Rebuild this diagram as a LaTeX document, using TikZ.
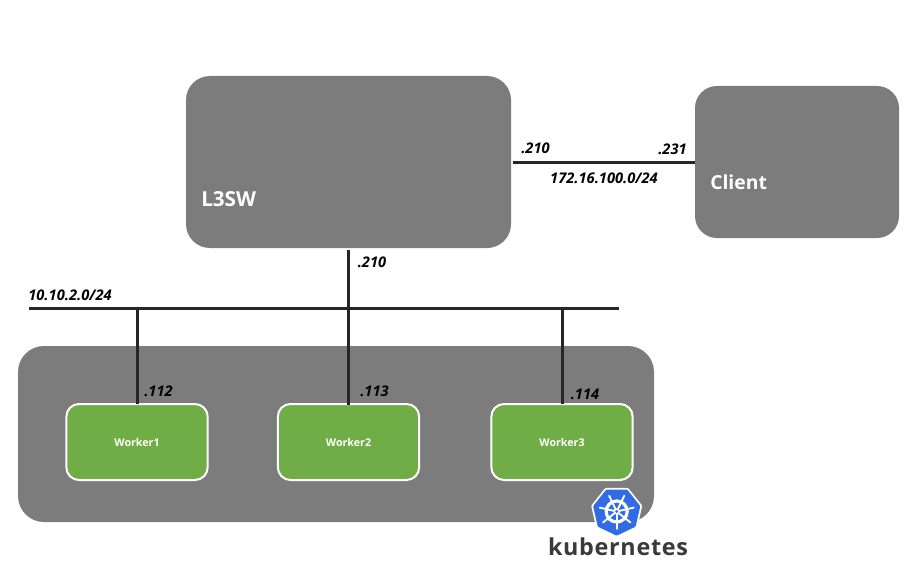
\documentclass[tikz,border=0pt]{standalone}
\usepackage{fontspec}
\setmainfont{Open Sans}
\newfontfamily\logofont[LetterSpace=3,BoldFont={Open Sans Bold}]{Open Sans}
\definecolor{boxgray}{HTML}{7C7C7C}
\definecolor{workgreen}{HTML}{70AD47}
\definecolor{linedark}{HTML}{262626}
\definecolor{k8sblue}{HTML}{326CE5}
\definecolor{logotext}{HTML}{3A3A3A}
\tikzset{
  graybox/.style={fill=boxgray,draw=none,inner sep=0pt,rectangle},
  worker/.style={fill=workgreen,draw=white,line width=1.5pt,rounded corners=9.5pt,inner sep=0pt,
    minimum width=106pt,minimum height=57pt,text=white,font=\fontsize{8}{10}\selectfont\bfseries},
  boxlabel/.style={text=white,font=\fontsize{14.5}{17}\selectfont\bfseries,inner sep=0pt,anchor=west},
  addr/.style={font=\fontsize{11}{13}\selectfont\bfseries\itshape,text=black,inner sep=0pt},
  wire/.style={draw=linedark,line width=2.25pt},
  spoke/.style={draw=white,line width=1.4pt,line cap=round},
}
\begin{document}
\begin{tikzpicture}[x=0.75pt,y=-0.75pt]
\useasboundingbox (0,0) rectangle (914,567);
\fill[white] (0,0) rectangle (914,567);
% boxes
\node[graybox,rounded corners=18pt,minimum width=243.75pt,minimum height=129pt] (l3sw) at (348.5,162) {};
\node[graybox,rounded corners=16.5pt,minimum width=153pt,minimum height=114pt] (client) at (797,162) {};
\node[graybox,rounded corners=19.5pt,minimum width=477pt,minimum height=132pt] (cluster) at (336,434) {};
\node[worker] (w1) at (137,442) {Worker1};
\node[worker] (w2) at (348.5,442) {Worker2};
\node[worker] (w3) at (562,442) {Worker3};
\node[boxlabel,font=\fontsize{15.5}{18}\selectfont\bfseries] (l3label) at (201,199) {L3SW};
\node[boxlabel] (clabel) at (710,182) {Client};
% wires
\coordinate (busL) at (29,308.5);
\coordinate (busR) at (619,308.5);
\draw[wire] (busL) -- (busR);
\draw[wire,shorten <=1pt,shorten >=-1.5pt] (l3sw.south) -- (w2.north);
\draw[wire,shorten >=-1pt] (w1.north |- busL) -- (w1.north);
\draw[wire,shorten >=-1pt] (w3.north |- busL) -- (w3.north);
\draw[wire,shorten <=1.5pt] (l3sw.east) -- (client.west);
% addresses
\node[addr] (a1) at (535.5,148) {.210};
\node[addr] (a2) at (672.5,149) {.231};
\node[addr] (a3) at (604,178) {172.16.100.0/24};
\node[addr] (a4) at (372,262) {.210};
\node[addr] (a5) at (70,295) {10.10.2.0/24};
\node[addr] (a6) at (158.5,391) {.112};
\node[addr] (a7) at (374.5,391) {.113};
\node[addr] (a8) at (585,394) {.114};
% kubernetes logo
\begin{scope}[shift={(616.7,511.5)}]
  \fill[white,draw=white,line width=3pt,line join=round]
    (90:24) -- (38.6:24) -- (-12.9:24) -- (-64.3:24) -- (-115.7:24) -- (-167.1:24) -- (141.4:24) -- cycle;
  \fill[k8sblue,draw=k8sblue,line width=3pt,line join=round]
    (90:22) -- (38.6:22) -- (-12.9:22) -- (-64.3:22) -- (-115.7:22) -- (-167.1:22) -- (141.4:22) -- cycle;
  \draw[white,line width=2.4pt] (0,0) circle (10.5);
  \fill[white] (0,0) circle (3.2);
  \fill[k8sblue] (0,0) circle (1.6);
  \foreach \a in {90,38.6,-12.9,-64.3,-115.7,-167.1,141.4}{
    \draw[spoke] (\a:3) -- (\a:17.5);
  }
\end{scope}
\node[inner sep=0pt,text=logotext,font=\logofont\fontsize{17.5}{20}\selectfont\bfseries] (k8s) at (618,547) {kubernetes};
\end{tikzpicture}
\end{document}
